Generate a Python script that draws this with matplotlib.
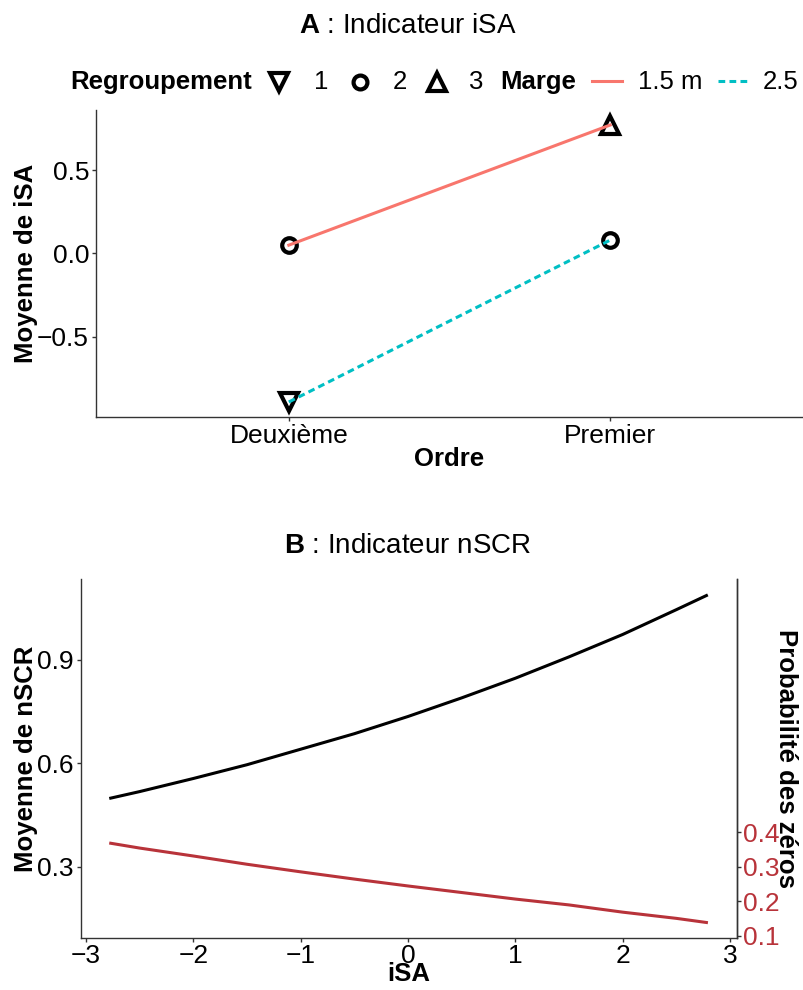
import matplotlib.pyplot as plt
from matplotlib.lines import Line2D

plt.rcParams['font.family'] = ['Liberation Sans', 'DejaVu Sans']
plt.rcParams['mathtext.fontset'] = 'custom'
plt.rcParams['mathtext.rm'] = 'Liberation Sans'
plt.rcParams['mathtext.bf'] = 'Liberation Sans:bold'

# Panel A : moyenne de iSA selon l'ordre
ordre = ["Deuxième", "Premier"]
isa_marge_15 = [0.05, 0.77]
isa_marge_25 = [-0.89, 0.08]
groupe_marge_15 = [2, 3]
groupe_marge_25 = [1, 2]

# Panel B : nSCR et probabilité des zéros selon iSA
isa_grille = [-2.77, -2.5, -2.0, -1.5, -1.0, -0.5, 0.0, 0.5, 1.0, 1.5, 2.0, 2.5, 2.78]
nscr_moyenne = [0.499, 0.518, 0.556, 0.596, 0.641, 0.686, 0.736, 0.790, 0.847, 0.909, 0.974, 1.046, 1.087]
prob_zeros = [0.368, 0.354, 0.331, 0.307, 0.285, 0.264, 0.244, 0.225, 0.206, 0.189, 0.168, 0.150, 0.138]

rouge = "#F8766D"
cyan = "#00BFC4"
brique = "#B8333A"
gris = "#333333"
formes = {1: 'v', 2: 'o', 3: '^'}
tailles = {1: 13, 2: 10.5, 3: 13}

W, H = 804, 990


def fx(px):
    return px / W


def fy(py):
    return 1 - py / H


def style(ax, droite=False):
    ax.spines['top'].set_visible(False)
    ax.spines['right'].set_visible(droite)
    for s in ['left', 'bottom', 'right']:
        ax.spines[s].set_color(gris)
        ax.spines[s].set_linewidth(1.0)
    ax.tick_params(length=3, width=1, color=gris, labelsize=19, labelcolor='black', pad=2)


fig = plt.figure(figsize=(W / 100, H / 100), dpi=100)

# ---- Panel A
axA = fig.add_axes([fx(96), fy(417), fx(803) - fx(96), fy(110) - fy(417)])
pos = list(range(len(ordre)))
axA.plot(pos, isa_marge_15, color=rouge, lw=2.2, zorder=3)
axA.plot(pos, isa_marge_25, color=cyan, lw=2.2, dashes=(2.2, 1.4), zorder=3)
for vals, grps in [(isa_marge_15, groupe_marge_15), (isa_marge_25, groupe_marge_25)]:
    for xi, v, g in zip(pos, vals, grps):
        axA.plot(xi, v, marker=formes[g], ms=tailles[g], mfc='none', mec='black',
                 mew=3, ls='none', zorder=2, clip_on=False)
axA.set_xlim(-0.6, 1.6)
axA.set_ylim(-0.98, 0.86)
axA.set_xticks(pos)
axA.set_xticklabels(ordre)
axA.set_yticks([-0.5, 0.0, 0.5])
style(axA)

fig.text(fx(408), fy(33), r"$\mathbf{A}$ : Indicateur iSA", fontsize=20, ha='center', va='baseline')
fig.text(fx(26), fy(263.5), "Moyenne de iSA", rotation=90, fontsize=18.5, fontweight='bold',
         ha='center', va='center')
fig.text(fx(449), fy(466), "Ordre", fontsize=18.5, fontweight='bold', ha='center', va='baseline')

# legende
yb = fy(89.3)
ym = fy(82)
fig.text(fx(70), yb, "Regroupement", fontsize=18.5, fontweight='bold', ha='left', va='baseline')
for g, xm, xt in [(1, 279, 321), (2, 360, 400), (3, 437, 476)]:
    fig.add_artist(Line2D([fx(xm)], [ym], marker=formes[g], ms=tailles[g] * 0.95, mfc='none',
                          mec='black', mew=3, ls='none', transform=fig.transFigure))
    fig.text(fx(xt), yb, str(g), fontsize=18.5, ha='center', va='baseline')
fig.text(fx(500), yb, "Marge", fontsize=18.5, fontweight='bold', ha='left', va='baseline')
fig.add_artist(Line2D([fx(592), fx(622)], [fy(80.7)] * 2, color=rouge, lw=2.2,
                      transform=fig.transFigure))
fig.text(fx(638), yb, "1.5 m", fontsize=18.5, ha='left', va='baseline')
fig.add_artist(Line2D([fx(718), fx(748)], [fy(80.7)] * 2, color=cyan, lw=2.2, dashes=(2.2, 1.4),
                      transform=fig.transFigure))
fig.text(fx(763), yb, "2.5", fontsize=18.5, ha='left', va='baseline')

# ---- Panel B
axB = fig.add_axes([fx(80.7), fy(938), fx(737) - fx(80.7), fy(579) - fy(938)])
axB.plot(isa_grille, nscr_moyenne, color='black', lw=2.2)
axB.plot(isa_grille, prob_zeros, color=brique, lw=2.2)
axB.set_xlim(-3.05, 3.065)
axB.set_ylim(0.093, 1.135)
axB.set_xticks([-3, -2, -1, 0, 1, 2, 3])
axB.set_yticks([0.3, 0.6, 0.9])
style(axB, droite=True)
axB.tick_params(axis='x', pad=1)

sec = axB.secondary_yaxis('right')
sec.set_yticks([0.1, 0.2, 0.3, 0.4])
sec.spines['right'].set_color(gris)
sec.spines['right'].set_linewidth(1.0)
sec.tick_params(length=3, width=1, color=gris, labelsize=19, labelcolor=brique, pad=1)

fig.text(fx(408), fy(553), r"$\mathbf{B}$ : Indicateur nSCR", fontsize=20, ha='center', va='baseline')
fig.text(fx(26), fy(758.5), "Moyenne de nSCR", rotation=90, fontsize=18.5, fontweight='bold',
         ha='center', va='center')
fig.text(fx(409), fy(981), "iSA", fontsize=18.5, fontweight='bold', ha='center', va='baseline')
fig.text(fx(786), fy(758.5), "Probabilité des zéros", rotation=270, fontsize=18.5, fontweight='bold',
         ha='center', va='center')

fig.savefig("out.png", dpi=100)
